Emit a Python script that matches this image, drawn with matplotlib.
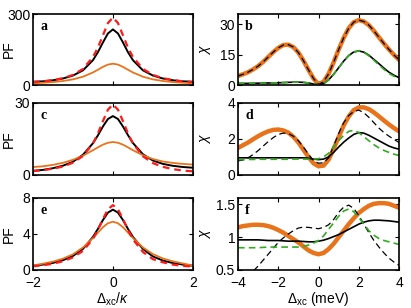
import matplotlib
matplotlib.use("Agg")
import matplotlib.pyplot as plt

plt.rcParams['font.family'] = ['Liberation Sans', 'DejaVu Sans']
plt.rcParams['mathtext.fontset'] = 'custom'
plt.rcParams['mathtext.rm'] = 'Liberation Sans'
plt.rcParams['mathtext.it'] = 'Liberation Sans:italic'
plt.rcParams['font.size'] = 10

ORANGE = '#E8731A'
GREEN = '#33AA22'
RED = '#FF1A1A'

# colonne de gauche : desaccord normalise
x_gauche = [-2, -1.75, -1.5, -1.25, -1, -0.75, -0.5, -0.375, -0.25, -0.125, 0,
            0.125, 0.25, 0.375, 0.5, 0.75, 1, 1.25, 1.5, 1.75, 2]

a_noir = [14, 15.5, 20, 27.5, 40, 62, 105, 139, 180, 218, 235,
          218, 180, 139, 105, 62, 40, 27.5, 20, 15.5, 14]
a_rouge = [12, 15.5, 20.7, 28.9, 42.7, 68, 118, 158.6, 210, 262, 285,
           262, 210, 158.6, 118, 68, 42.7, 28.9, 20.7, 15.5, 12]
a_orange = [7.4, 9.5, 12.4, 16.9, 23.8, 35.1, 53.1, 64.7, 76.7, 86.3, 90,
            86.3, 76.7, 64.7, 53.1, 35.1, 23.8, 16.9, 12.4, 9.5, 7.4]

c_noir = [1.7, 2.1, 2.8, 3.85, 5.5, 8.4, 13.2, 16.5, 20.2, 23.3, 24.5,
          23.3, 20.2, 16.6, 13.3, 8.6, 6.0, 4.6, 3.8, 3.3, 3.0]
c_rouge = [1.6, 2.0, 2.6, 3.5, 5.1, 7.9, 13.1, 17.3, 22.4, 27.2, 29.3,
           27.2, 22.4, 17.3, 13.1, 7.76, 4.93, 3.36, 2.42, 1.82, 1.5]
c_orange = [3.3, 3.6, 4.2, 5.05, 6.3, 8.0, 10.3, 11.5, 12.6, 13.4, 13.7,
            13.4, 12.6, 11.5, 10.3, 8.2, 6.6, 5.6, 5.0, 4.6, 4.3]

e_noir = [0.47, 0.6, 0.79, 1.09, 1.56, 2.34, 3.67, 4.57, 5.55, 6.37, 6.7,
          6.37, 5.55, 4.57, 3.67, 2.34, 1.5, 1.05, 0.77, 0.6, 0.47]
e_rouge = [0.42, 0.52, 0.7, 0.97, 1.4, 2.12, 3.45, 4.47, 5.66, 6.74, 7.2,
           6.74, 5.66, 4.47, 3.4, 2.0, 1.2, 0.85, 0.6, 0.45, 0.38]
e_orange = [0.5, 0.7, 0.93, 1.26, 1.74, 2.5, 3.55, 4.16, 4.75, 5.19, 5.36,
            5.19, 4.75, 4.16, 3.55, 2.5, 1.76, 1.28, 0.96, 0.72, 0.5]

# colonne de droite : desaccord en meV
x_droite = [-4, -3.75, -3.5, -3.25, -3, -2.75, -2.5, -2.25, -2, -1.75, -1.5, -1.25, -1, -0.75,
            -0.5, -0.25, 0, 0.25, 0.5, 0.75, 1, 1.25, 1.5, 1.75, 2, 2.25, 2.5, 2.75, 3,
            3.25, 3.5, 3.75, 4]

b_orange = [4.4, 5.3, 6.3, 7.7, 9.3, 11.4, 13.8, 16.2, 18.3, 19.7, 19.9, 18.7, 16.0, 12.0,
            7.5, 3.2, 0.3, 1.6, 5.5, 11.2, 17.5, 23.3, 28.0, 31.0, 32.0, 31.3, 29.5, 26.7, 23.5,
            20.4, 17.5, 14.8, 12.4]
b_tirets = [4.4, 5.3, 6.3, 7.7, 9.3, 11.4, 13.8, 16.2, 18.3, 19.7, 19.9, 18.7, 16.0, 12.0,
            7.5, 3.2, 0.3, 1.6, 5.5, 11.2, 17.5, 23.3, 28.0, 31.0, 32.0, 31.3, 29.5, 26.7, 23.5,
            20.4, 17.5, 14.8, 12.4]
b_noir = [0.8, 0.8, 0.8, 0.85, 0.9, 0.95, 1.0, 1.05, 1.1, 1.2, 1.3, 1.4, 1.4, 1.3,
          1.0, 0.5, 0.1, 0.7, 2.5, 5.3, 8.5, 11.8, 14.5, 16.3, 16.8, 16.2, 14.7, 12.6, 10.5,
          8.3, 6.3, 4.8, 3.6]
b_vert = [0.8, 0.8, 0.8, 0.85, 0.9, 0.95, 1.0, 1.05, 1.1, 1.2, 1.3, 1.4, 1.4, 1.3,
          1.0, 0.5, 0.1, 0.7, 2.5, 5.3, 8.5, 11.8, 14.5, 16.3, 16.8, 16.1, 14.4, 12.2, 9.9,
          7.7, 5.7, 4.3, 3.1]

d_orange = [1.5, 1.65, 1.8, 1.98, 2.15, 2.3, 2.42, 2.5, 2.52, 2.47, 2.35, 2.12, 1.8, 1.4,
            1.0, 0.65, 0.48, 0.52, 0.85, 1.45, 2.1, 2.75, 3.25, 3.6, 3.75, 3.75, 3.65, 3.47, 3.25,
            3.02, 2.8, 2.6, 2.42]
d_tirets = [0.78, 0.83, 0.95, 1.13, 1.35, 1.6, 1.85, 2.07, 2.25, 2.32, 2.3, 2.15, 1.9, 1.55,
            1.15, 0.8, 0.65, 0.68, 0.95, 1.6, 2.3, 2.9, 3.3, 3.52, 3.6, 3.45, 3.2, 2.9, 2.6,
            2.35, 2.15, 1.97, 1.8]
d_noir = [0.95, 0.95, 0.95, 0.95, 0.95, 0.95, 0.95, 0.95, 0.95, 0.95, 0.95, 0.95, 0.95, 0.95,
          0.93, 0.88, 0.85, 0.88, 1.0, 1.25, 1.55, 1.82, 2.05, 2.25, 2.35, 2.32, 2.2, 2.05, 1.9,
          1.75, 1.6, 1.5, 1.43]
d_vert = [0.85, 0.85, 0.86, 0.86, 0.87, 0.87, 0.87, 0.87, 0.87, 0.87, 0.87, 0.88, 0.88, 0.88,
          0.88, 0.88, 0.9, 1.0, 1.2, 1.55, 1.9, 2.2, 2.42, 2.48, 2.35, 2.12, 1.9, 1.68, 1.5,
          1.36, 1.25, 1.15, 1.08]

f_orange = [1.15, 1.17, 1.18, 1.19, 1.19, 1.185, 1.17, 1.145, 1.11, 1.07, 1.02, 0.97, 0.92, 0.86,
            0.8, 0.76, 0.74, 0.76, 0.82, 0.9, 1.0, 1.1, 1.2, 1.29, 1.37, 1.43, 1.48, 1.51, 1.52,
            1.52, 1.51, 1.48, 1.45]
f_tirets = [0.3, 0.35, 0.41, 0.48, 0.56, 0.65, 0.74, 0.83, 0.92, 0.99, 1.05, 1.1, 1.14, 1.155,
            1.15, 1.14, 1.13, 1.15, 1.19, 1.27, 1.38, 1.46, 1.49, 1.44, 1.33, 1.2, 1.07, 0.95, 0.85,
            0.76, 0.68, 0.62, 0.57]
f_noir = [0.96, 0.96, 0.96, 0.96, 0.96, 0.955, 0.95, 0.95, 0.95, 0.945, 0.94, 0.94, 0.94, 0.935,
          0.93, 0.93, 0.94, 0.955, 0.98, 1.01, 1.04, 1.08, 1.12, 1.16, 1.2, 1.23, 1.25, 1.26, 1.26,
          1.255, 1.25, 1.24, 1.23]
f_vert = [0.84, 0.84, 0.84, 0.84, 0.84, 0.845, 0.85, 0.85, 0.85, 0.85, 0.85, 0.85, 0.85, 0.86,
          0.88, 0.91, 0.95, 1.02, 1.12, 1.22, 1.32, 1.4, 1.43, 1.39, 1.3, 1.2, 1.1, 1.03, 0.98,
          0.95, 0.93, 0.91, 0.89]

fig = plt.figure(figsize=(4.11, 3.08), dpi=100)

lignes = [(0.724, 0.2305), (0.432, 0.234), (0.1234, 0.234)]
gauche = [fig.add_axes([0.0803, b, 0.389, h]) for b, h in lignes]
droite = [fig.add_axes([0.579, b, 0.392, h]) for b, h in lignes]

donnees_g = [(a_noir, a_rouge, a_orange, 300, [0, 300], 'a'),
             (c_noir, c_rouge, c_orange, 30, [0, 30], 'c'),
             (e_noir, e_rouge, e_orange, 8, [0, 4, 8], 'e')]
for ax, (noir, rouge, orange, ymax, yt, lettre) in zip(gauche, donnees_g):
    ax.plot(x_gauche, noir, color='black', lw=1.4)
    ax.plot(x_gauche, orange, color=ORANGE, lw=1.3)
    ax.plot(x_gauche, rouge, color=RED, lw=1.6, ls=(0, (3, 2.2)))
    ax.set_xlim(-2, 2)
    ax.set_ylim(0, ymax)
    ax.set_yticks(yt)
    ax.set_xticks([-2, 0, 2])
    ax.set_ylabel('PF')
    ax.yaxis.set_label_coords(-0.11, 0.5)
    ax.text(0.045, 0.78, lettre, transform=ax.transAxes, family='Liberation Serif',
            fontweight='bold', fontsize=10)

donnees_d = [(b_orange, b_tirets, b_noir, b_vert, (0, 35), [0, 15, 30], 'b'),
             (d_orange, d_tirets, d_noir, d_vert, (0, 4), [0, 2, 4], 'd'),
             (f_orange, f_tirets, f_noir, f_vert, (0.5, 1.6), [0.5, 1, 1.5], 'f')]
for ax, (orange, tirets, noir, vert, ylim, yt, lettre) in zip(droite, donnees_d):
    ax.plot(x_droite, orange, color=ORANGE, lw=3.2)
    ax.plot(x_droite, tirets, color='black', lw=0.9, ls=(0, (5, 3)))
    ax.plot(x_droite, noir, color='black', lw=1.2)
    ax.plot(x_droite, vert, color=GREEN, lw=1.2, ls=(0, (4, 2.5)))
    ax.set_xlim(-4, 4)
    ax.set_ylim(*ylim)
    ax.set_yticks(yt)
    ax.set_yticklabels(['0.5', '1', '1.5'] if lettre == 'f' else [str(v) for v in yt])
    ax.set_xticks([-4, -2, 0, 2, 4])
    ax.set_ylabel(r'$\chi$')
    ax.yaxis.set_label_coords(-0.155, 0.5)
    ax.text(0.045, 0.78, lettre, transform=ax.transAxes, family='Liberation Serif',
            fontweight='bold', fontsize=10)

for ax in gauche + droite:
    ax.tick_params(direction='in', top=True, right=True, length=3, width=0.8, pad=2)
    ax.tick_params(axis='x', pad=4.5)
    for s in ax.spines.values():
        s.set_linewidth(1.2)

for ax in gauche[:2] + droite[:2]:
    ax.set_xticklabels([])

gauche[2].set_xticklabels(['\u22122', '0', '2'])
droite[2].set_xticklabels(['\u22124', '\u22122', '0', '2', '4'])
gauche[2].set_xlabel(r'$\Delta_{\rm xc}/\kappa$', labelpad=0)
droite[2].set_xlabel(r'$\Delta_{\rm xc}$ (meV)', labelpad=0)

fig.savefig('out.png', dpi=100)
